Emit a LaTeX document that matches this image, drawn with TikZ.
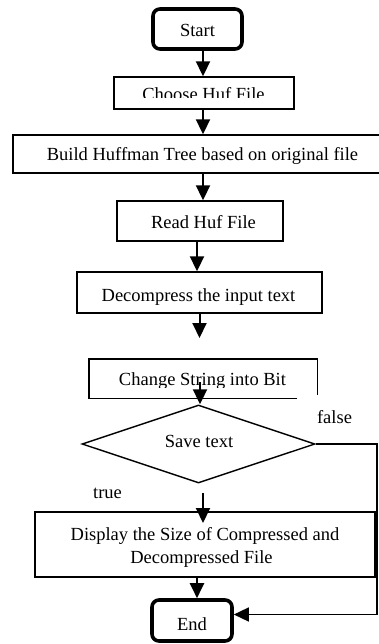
\documentclass[tikz,border=0pt]{standalone}
\usepackage{fontspec}
\setmainfont{Liberation Serif}
\usetikzlibrary{arrows.meta,shapes.geometric}
\newcommand{\fsz}{\fontsize{18.5}{22}\selectfont}
\tikzset{
  box/.style={draw, line width=1.4pt, inner sep=0pt},
  term/.style={draw, line width=3.6pt, rounded corners=7pt, inner sep=0pt},
  txt/.style={font=\fsz, inner sep=0pt, anchor=base},
  arr/.style={line width=2pt, -{Triangle[length=15pt,width=14pt]}},
  flow/.style={line width=1.4pt},
}
\begin{document}
\begin{tikzpicture}[x=1pt,y=-1pt]
\useasboundingbox (0,0) rectangle (379,644);
% Start
\node[term, minimum width=89pt, minimum height=40pt] (start) at (197.5,29) {};
\node[txt] (starttext) at (197.5,37) {Start};
% Choose Huf File
\node[box, minimum width=180pt, minimum height=32pt] (choose) at (204,93) {};
\begin{scope}
  \clip (114,77) rectangle (294,97.5);
  \node[txt] (choosetext) at (203.5,101) {Choose Huf File};
\end{scope}
% Build
\node[box, minimum width=379pt, minimum height=38pt] (build) at (202.5,154) {};
\node[txt] (buildtext) at (202.5,161) {Build Huffman Tree based on original file};
% Read
\node[box, minimum width=166pt, minimum height=40pt] (read) at (200,221) {};
\node[txt] (readtext) at (203.5,229) {Read Huf File};
% Decompress
\node[box, minimum width=245pt, minimum height=41pt] (decompress) at (199.5,292.5) {};
\node[txt] (decomptext) at (198.5,301) {Decompress the input text};
% Change String into Bit (partial outline)
\node[inner sep=0pt, minimum width=228pt, minimum height=39pt] (change) at (203,378.5) {};
\draw[flow] ([xshift=-20pt]change.south east) -- (change.south west) -- (change.north west)
  -- (change.north east) -- ([yshift=3pt]change.south east);
\begin{scope}
  \clip (90,360) rectangle (316,387.5);
  \node[txt] (changetext) at (202.5,385.5) {Change String into Bit};
\end{scope}
% Decision
\node[draw, diamond, line width=1.4pt, minimum width=233pt, minimum height=78pt, inner sep=0pt] (save) at (198.5,444) {};
\node[txt] (savetext) at (199,447) {Save text};
\node[txt] (falselbl) at (334.5,423) {false};
\node[txt] (truelbl) at (107.5,498) {true};
% Display
\node[box, minimum width=340pt, minimum height=65pt] (display) at (205,544.5) {};
\node[txt] (disp1) at (205,540) {Display the Size of Compressed and};
\node[txt] (disp2) at (201.5,563) {Decompressed File};
% End
\node[term, minimum width=80pt, minimum height=41pt] (end) at (192,620.5) {};
\node[txt] (endtext) at (192,630) {End};
% connectors
\draw[arr] ([xshift=5.5pt]start.south) -- ([xshift=5.5pt]start.south |- choose.north);
\draw[arr] ([xshift=-1pt]choose.south) -- ([xshift=-1pt]choose.south |- build.north);
\draw[arr] ([xshift=0.5pt]build.south) -- ([xshift=0.5pt]build.south |- read.north);
\draw[arr] ([xshift=-3pt]read.south) -- ([xshift=-3pt]read.south |- decompress.north);
\coordinate (d5) at (199.5,338);
\draw[arr] (decompress.south) -- (d5);
\coordinate (c6) at (200,382);
\draw[arr] (c6) -- (c6 |- save.north);
\coordinate (t7) at (203,493);
\coordinate (t7e) at (203,523);
\draw[arr] (t7) -- (t7e);
\draw[arr] ([xshift=-8pt]display.south) -- ([xshift=-8pt]display.south |- end.north);
\coordinate (fcorner) at (377,444);
\draw[flow, -{Triangle[length=15pt,width=14pt]}] (save.east) -- (fcorner) |- ([yshift=6pt]end.east);
\end{tikzpicture}
\end{document}
